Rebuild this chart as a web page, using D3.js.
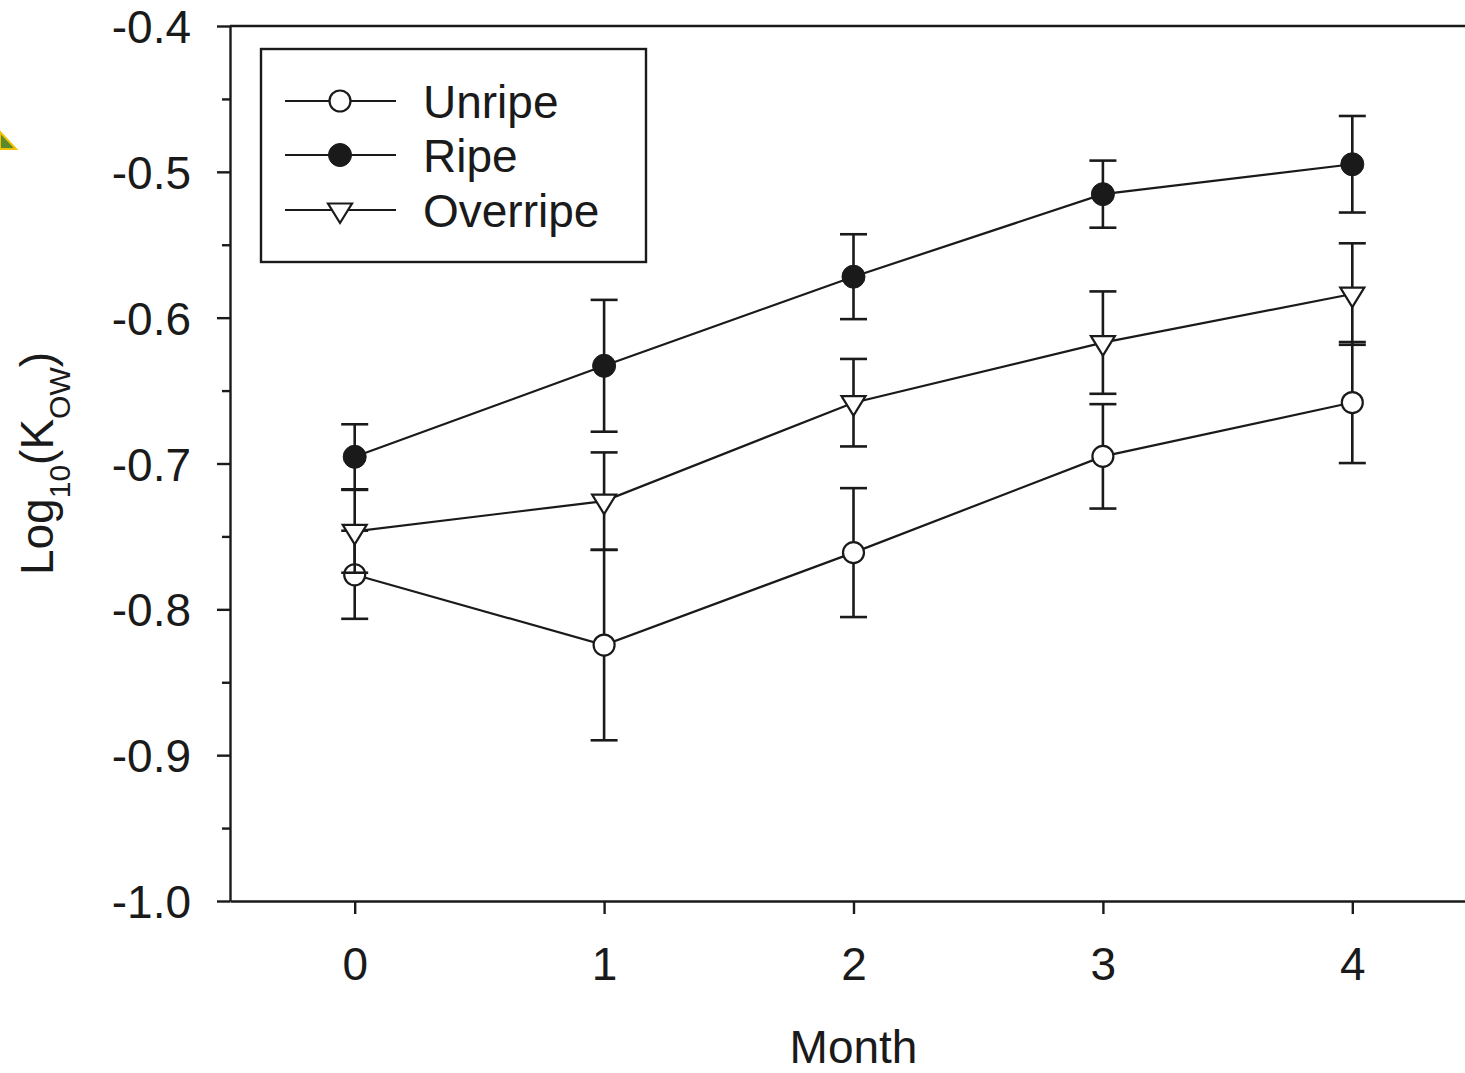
<!DOCTYPE html>
<html>
<head>
<meta charset="utf-8">
<script src="https://cdn.jsdelivr.net/npm/d3@7"></script>
<style>
  body { margin: 0; background: #fff; }
  svg text { font-family: "Liberation Sans", Arial, sans-serif; fill: #1a1a1a; }
</style>
</head>
<body>
<div id="chart"></div>
<script>
// data
const months = [0, 1, 2, 3, 4];
const xTickLabels = ["0", "1", "2", "3", "4"];
const yTickValues = [-1.0, -0.9, -0.8, -0.7, -0.6, -0.5, -0.4];
const yTickLabels = ["-1.0", "-0.9", "-0.8", "-0.7", "-0.6", "-0.5", "-0.4"];
const yMinorTicks = [-0.95, -0.85, -0.75, -0.65, -0.55, -0.45];

const unripe = [-0.7763, -0.8245, -0.7611, -0.6951, -0.6582];
const unripeErr = [0.0302, 0.0653, 0.0442, 0.0358, 0.0415];
const ripe = [-0.6954, -0.6330, -0.5719, -0.5153, -0.4948];
const ripeErr = [0.0223, 0.0452, 0.0291, 0.0230, 0.0331];
const overripe = [-0.7465, -0.7258, -0.6583, -0.6171, -0.5838];
const overripeErr = [0.0284, 0.0334, 0.0300, 0.0351, 0.0348];

const seriesNames = ["Unripe", "Ripe", "Overripe"];

const W = 1465, H = 1073;
const ink = "#1a1a1a";

const svg = d3.select("#chart").append("svg")
    .attr("width", W)
    .attr("height", H);

// scales (plot runs past the right edge of the picture)
const x = d3.scaleLinear().domain([-0.5, 4.5]).range([230, 1477]);
const y = d3.scaleLinear().domain([-1.0, -0.4]).range([901, 26]);

// small cropped marker at the left edge of the original image
svg.append("path")
    .attr("d", "M0,132 L16,149 L0,149 Z")
    .attr("fill", "#5a8a2c")
    .attr("stroke", "#f2c200")
    .attr("stroke-width", 2);

// y axis
const yAxis = d3.axisLeft(y)
    .tickValues(yTickValues)
    .tickFormat((d, i) => yTickLabels[i])
    .tickSizeInner(13)
    .tickSizeOuter(0)
    .tickPadding(26);

const gy = svg.append("g")
    .attr("transform", "translate(" + x(-0.5) + ",0)")
    .call(yAxis);
gy.selectAll("text")
    .style("font-size", "46px")
    .attr("dy", "0.36em");

// minor y ticks
svg.append("g")
    .attr("transform", "translate(" + x(-0.5) + ",0)")
    .call(d3.axisLeft(y).tickValues(yMinorTicks).tickFormat("").tickSizeInner(8).tickSizeOuter(0))
    .select(".domain").remove();

// x axis
const xAxis = d3.axisBottom(x)
    .tickValues(months)
    .tickFormat((d, i) => xTickLabels[i])
    .tickSizeInner(13)
    .tickSizeOuter(0)
    .tickPadding(33);

const gx = svg.append("g")
    .attr("transform", "translate(0," + y(-1.0) + ")")
    .call(xAxis);
gx.selectAll("text")
    .style("font-size", "46px");

svg.selectAll(".domain, .tick line")
    .attr("stroke", ink)
    .attr("stroke-width", 2.4);

// top frame line
svg.append("line")
    .attr("x1", x(-0.5)).attr("x2", x(4.5))
    .attr("y1", y(-0.4)).attr("y2", y(-0.4))
    .attr("stroke", ink)
    .attr("stroke-width", 2.4);

// axis titles
svg.append("text")
    .attr("x", x(2))
    .attr("y", 1063)
    .attr("text-anchor", "middle")
    .style("font-size", "46px")
    .text("Month");

const yTitle = svg.append("text")
    .attr("transform", "translate(53," + (y(-0.7)) + ") rotate(-90)")
    .attr("text-anchor", "middle")
    .style("font-size", "46px");
yTitle.append("tspan").text("Log");
yTitle.append("tspan").attr("dy", 17).style("font-size", "30px").text("10");
yTitle.append("tspan").attr("dy", -17).text("(K");
yTitle.append("tspan").attr("dy", 17).style("font-size", "30px").text("OW");
yTitle.append("tspan").attr("dy", -17).text(")");

// marker drawing
function drawMarker(g, kind, cx, cy) {
    if (kind === "Unripe") {
        g.append("circle").attr("cx", cx).attr("cy", cy).attr("r", 10.5)
            .attr("fill", "#fff").attr("stroke", ink).attr("stroke-width", 2.2);
    } else if (kind === "Ripe") {
        g.append("circle").attr("cx", cx).attr("cy", cy).attr("r", 11.5)
            .attr("fill", ink).attr("stroke", ink).attr("stroke-width", 1);
    } else {
        // downward triangle, centred on its centroid
        g.append("path")
            .attr("d", "M" + (cx - 12) + "," + (cy - 6.5) + " L" + (cx + 12) + "," + (cy - 6.5) + " L" + cx + "," + (cy + 13) + " Z")
            .attr("fill", "#fff").attr("stroke", ink).attr("stroke-width", 2.2)
            .attr("stroke-linejoin", "miter");
    }
}

const series = [
    { name: "Unripe", values: unripe, err: unripeErr },
    { name: "Ripe", values: ripe, err: ripeErr },
    { name: "Overripe", values: overripe, err: overripeErr }
];

const line = d3.line()
    .x((d, i) => x(months[i]))
    .y(d => y(d));

const capHalf = 13.5;

series.forEach(s => {
    const g = svg.append("g");

    g.append("path")
        .datum(s.values)
        .attr("fill", "none")
        .attr("stroke", ink)
        .attr("stroke-width", 2.2)
        .attr("d", line);

    // error bars
    s.values.forEach((v, i) => {
        const px = x(months[i]);
        const top = y(v + s.err[i]);
        const bot = y(v - s.err[i]);
        g.append("line")
            .attr("x1", px).attr("x2", px)
            .attr("y1", top).attr("y2", bot)
            .attr("stroke", ink).attr("stroke-width", 2.6);
        [top, bot].forEach(cy => {
            g.append("line")
                .attr("x1", px - capHalf).attr("x2", px + capHalf)
                .attr("y1", cy).attr("y2", cy)
                .attr("stroke", ink).attr("stroke-width", 2.6);
        });
    });

    s.values.forEach((v, i) => drawMarker(g, s.name, x(months[i]), y(v)));
});

// legend
const legend = svg.append("g");
legend.append("rect")
    .attr("x", 261).attr("y", 49)
    .attr("width", 385).attr("height", 213)
    .attr("fill", "#fff")
    .attr("stroke", ink)
    .attr("stroke-width", 2.4);

const legendRowY = [101, 155, 210];
seriesNames.forEach((name, i) => {
    const ry = legendRowY[i];
    legend.append("line")
        .attr("x1", 285).attr("x2", 396)
        .attr("y1", ry).attr("y2", ry)
        .attr("stroke", ink).attr("stroke-width", 2.2);
    drawMarker(legend, name, 340, ry);
    legend.append("text")
        .attr("x", 423)
        .attr("y", ry + 17)
        .style("font-size", "46px")
        .text(name);
});
</script>
</body>
</html>
